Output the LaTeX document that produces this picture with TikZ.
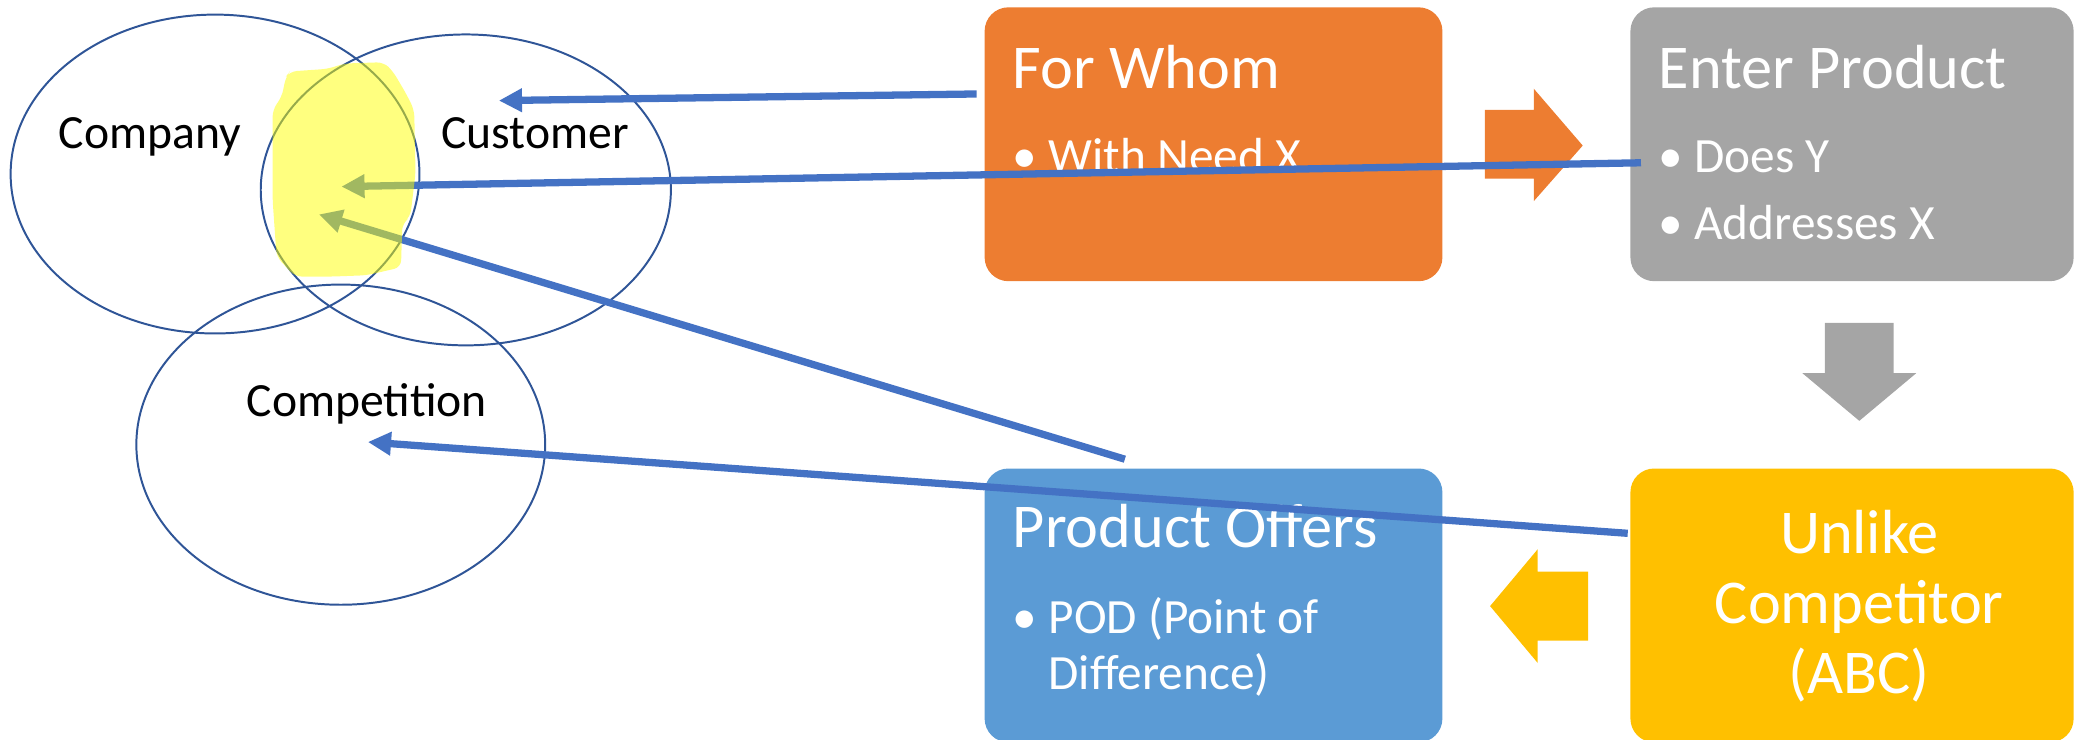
\documentclass[tikz,border=0pt]{standalone}
\usepackage{fontspec}
\setmainfont{Carlito}
\usetikzlibrary{arrows.meta,shapes.geometric}
\definecolor{vennline}{RGB}{47,85,151}
\definecolor{linkblue}{RGB}{68,114,196}
\definecolor{boxorange}{RGB}{237,125,49}
\definecolor{boxgray}{RGB}{165,165,165}
\definecolor{boxblue}{RGB}{91,155,213}
\definecolor{boxgold}{RGB}{255,192,0}
\definecolor{marker}{RGB}{255,255,0}
\newcommand{\bulletmark}{\makebox[0.54cm][l]{\textbullet}}

\begin{document}
\begin{tikzpicture}[x=0.02cm,y=-0.02cm,
  venn/.style={ellipse, draw=vennline, line width=0.85pt, inner sep=0pt},
  card/.style={rounded corners=0.36cm, inner sep=0pt, minimum height=4.14cm},
  title/.style={text=white, font=\fontsize{26.8}{32}\selectfont, anchor=base west, inner sep=0pt},
  item/.style={text=white, font=\fontsize{21.2}{25}\selectfont, anchor=base west, inner sep=0pt},
  vlabel/.style={font=\fontsize{20.5}{24}\selectfont, anchor=base west, inner sep=0pt},
  link/.style={draw=linkblue, line width=0.11cm, -{Triangle[length=0.35cm,width=0.34cm]}},
]
\useasboundingbox (0,0) rectangle (1568,559);

% ---- process cards ----
\node[card, fill=boxorange, minimum width=6.92cm] (whom)  at (917,109) {};
\node[card, fill=boxgray,   minimum width=6.70cm] (enter) at (1399.5,109) {};
\node[card, fill=boxblue,   minimum width=6.92cm] (offer) at (917,457.5) {};
\node[card, fill=boxgold,   minimum width=6.70cm] (unlike) at (1399.5,457.5) {};

\node[title] (whomT)  at (765,67)  {For Whom};
\node[item]  (whomA)  at (765,130) {\bulletmark With Need X};

\node[title] (enterT) at (1253,67)  {Enter Product};
\node[item]  (enterA) at (1253,130) {\bulletmark Does Y};
\node[item]  (enterB) at (1253,181) {\bulletmark Addresses X};

\node[title] (offerT) at (765,414) {Product Offers};
\node[item]  (offerA) at (765,479) {\bulletmark POD (Point of};
\node[item]  (offerB) at (792,521) {Difference)};

\node[title, anchor=base] (unlA) at (1405,418) {Unlike};
\node[title, anchor=base] (unlB) at (1405,471) {Competitor};
\node[title, anchor=base] (unlC) at (1405,524) {(ABC)};

% ---- block arrows between the cards ----
\fill[boxorange] (1122,83) -- (1159,83) -- (1159,67) -- (1196,110) -- (1159,152) -- (1159,135) -- (1122,135) -- cycle;
\fill[boxgray] (1379,244) -- (1431,244) -- (1431,282) -- (1448,282) -- (1405,318) -- (1362,282) -- (1379,282) -- cycle;
\fill[boxgold] (1200,432) -- (1162,432) -- (1162,415) -- (1126,458) -- (1162,501) -- (1162,484) -- (1200,484) -- cycle;

% ---- Venn circles ----
\node[venn, minimum width=6.18cm, minimum height=4.82cm] (company)     at (162.5,131.5) {};
\node[venn, minimum width=6.20cm, minimum height=4.70cm] (customer)    at (352,143.5) {};
\node[venn, minimum width=6.18cm, minimum height=4.84cm] (competition) at (257.5,336) {};

\node[vlabel] (companyL)     at (44,112)  {Company};
\node[vlabel] (customerL)    at (333,112) {Customer};
\node[vlabel] (competitionL) at (186,315) {Competition};

% ---- links from the cards into the Venn diagram ----
\coordinate (whomOut)  at (738,71);
\coordinate (enterOut) at (1240,123);
\coordinate (offerOut) at (850,347);
\coordinate (unlOut)   at (1230,403);
\coordinate (custTip)  at (377,76);
\coordinate (midTipA)  at (258,141);
\coordinate (midTipB)  at (241,162);
\coordinate (compTip)  at (278,334);

\draw[link] (whomOut)  -- (custTip);
\draw[link] (enterOut) -- (midTipA);
\draw[link] (offerOut) -- (midTipB);
\draw[link] (unlOut)   -- (compTip);

% ---- highlighter over the company/customer overlap ----
\fill[marker, fill opacity=0.5, rounded corners=3pt]
  (219,54) -- (248,52) -- (260,48) -- (290,47) -- (297,54) -- (307,71) -- (313,83)
  -- (314,131) -- (310,164) -- (304,169) -- (303,202) -- (277,208) -- (250,209)
  -- (223,209) -- (209,194) -- (206,151) -- (206,83) -- (213,73) -- (216,58) -- cycle;
\end{tikzpicture}
\end{document}
